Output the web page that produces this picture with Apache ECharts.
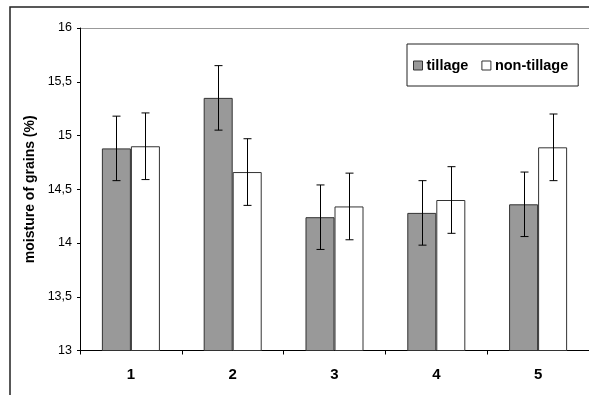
<!DOCTYPE html>
<html><head><meta charset="utf-8">
<script src="https://cdn.jsdelivr.net/npm/echarts@6/dist/echarts.min.js"></script>
<style>html,body{margin:0;padding:0;background:#fff}#c{width:589px;height:395px}</style>
</head><body><div id="c"></div>
<script>
const categories = ['1', '2', '3', '4', '5'];
const tillage = [14.88, 15.35, 14.24, 14.28, 14.36];
const tillageErr = [0.30, 0.30, 0.30, 0.30, 0.30];
const nonTillage = [14.90, 14.66, 14.34, 14.40, 14.89];
const nonTillageErr = [0.31, 0.31, 0.31, 0.31, 0.31];
const yTicks = [13, 13.5, 14, 14.5, 15, 15.5, 16];

const chart = echarts.init(document.getElementById('c'), null, {renderer: 'canvas'});
const FONT = 'Liberation Sans, Arial, sans-serif';

function errSeries(vals, errs, side) {
  return {
    type: 'custom',
    silent: true,
    z: 5,
    data: vals.map((v, i) => [i, v, errs[i]]),
    renderItem: function (params, api) {
      const idx = api.value(0), v = api.value(1), e = api.value(2);
      const band = api.size([1, 0])[0];
      const off = side * band * 0.1425;
      const top = api.coord([idx, v + e]);
      const bot = api.coord([idx, v - e]);
      const x = Math.round(top[0] + off) + 0.5;
      const cap = 4;
      const st = {stroke: '#000', lineWidth: 1};
      return {type: 'group', children: [
        {type: 'line', shape: {x1: x, y1: top[1], x2: x, y2: bot[1]}, style: st},
        {type: 'line', shape: {x1: x - cap, y1: top[1], x2: x + cap, y2: top[1]}, style: st},
        {type: 'line', shape: {x1: x - cap, y1: bot[1], x2: x + cap, y2: bot[1]}, style: st}
      ]};
    }
  };
}

chart.setOption({
  animation: false,
  textStyle: {fontFamily: FONT},
  grid: {left: 80, top: 28, width: 512, height: 322.5, containLabel: false},
  graphic: [{
    type: 'rect', silent: true,
    shape: {x: 10, y: 7, width: 620, height: 420},
    style: {fill: 'none', stroke: '#222', lineWidth: 1.5}
  }],
  legend: {
    left: 407, top: 44,
    padding: [14, 10, 13, 6],
    borderColor: '#222', borderWidth: 1,
    itemWidth: 9, itemHeight: 9, itemGap: 13,
    textStyle: {fontFamily: FONT, fontSize: 14.5, fontWeight: 'bold', color: '#000', padding: [0, 0, 0, -1]},
    data: [
      {name: 'tillage', icon: 'rect', itemStyle: {color: '#999', borderColor: '#333', borderWidth: 1}},
      {name: 'non-tillage', icon: 'rect', itemStyle: {color: '#fff', borderColor: '#333', borderWidth: 1}}
    ]
  },
  xAxis: {
    type: 'category',
    data: categories,
    axisLine: {lineStyle: {color: '#000', width: 1}},
    axisTick: {show: true, length: 4, lineStyle: {color: '#000'}},
    axisLabel: {fontFamily: FONT, fontSize: 15, fontWeight: 'bold', color: '#000', margin: 17}
  },
  yAxis: {
    type: 'value',
    min: 13, max: 16, interval: 0.5,
    name: 'moisture of grains (%)',
    nameLocation: 'middle',
    nameGap: 43,
    nameTextStyle: {fontFamily: FONT, fontSize: 14, fontWeight: 'bold', color: '#000'},
    axisLine: {show: true, lineStyle: {color: '#000', width: 1}},
    axisTick: {show: true, length: 3, lineStyle: {color: '#000'}},
    axisLabel: {
      fontFamily: FONT, fontSize: 12.5, color: '#000', margin: 8,
      formatter: function (v) { return yTicks.indexOf(v) >= 0 ? String(v).replace('.', ',') : ''; }
    },
    splitLine: {show: true, lineStyle: {color: ['transparent', 'transparent', 'transparent', 'transparent', 'transparent', 'transparent', '#999'], width: 1}}
  },
  series: [
    {
      name: 'tillage', type: 'bar', data: tillage,
      barGap: '0%', barCategoryGap: '43%',
      itemStyle: {color: '#999', borderColor: '#333', borderWidth: 1}
    },
    {
      name: 'non-tillage', type: 'bar', data: nonTillage,
      barGap: '0%', barCategoryGap: '43%',
      itemStyle: {color: '#fff', borderColor: '#333', borderWidth: 1}
    },
    errSeries(tillage, tillageErr, -1),
    errSeries(nonTillage, nonTillageErr, 1)
  ]
});
</script></body></html>
